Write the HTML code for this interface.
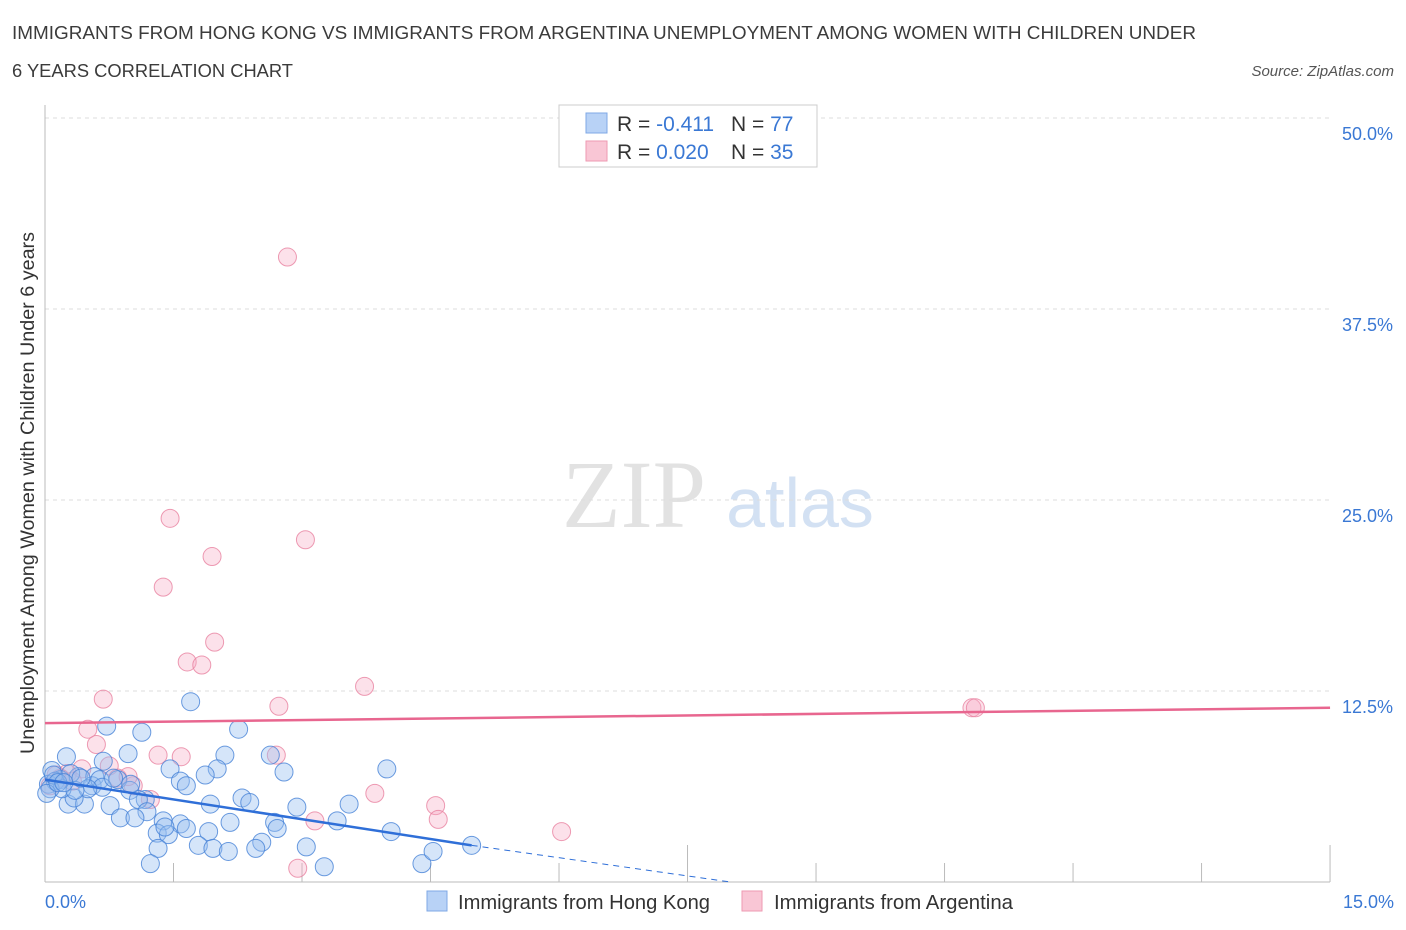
<!DOCTYPE html>
<html><head><meta charset="utf-8">
<style>
body{margin:0;background:#fff;font-family:"Liberation Sans",sans-serif;}
svg{display:block}
</style></head>
<body>
<svg id="c" width="1406" height="930">
<text x="12" y="39" font-size="18" fill="#3b3b3b" textLength="1184" lengthAdjust="spacingAndGlyphs">IMMIGRANTS FROM HONG KONG VS IMMIGRANTS FROM ARGENTINA UNEMPLOYMENT AMONG WOMEN WITH CHILDREN UNDER</text>
<text x="12" y="77" font-size="18" fill="#3b3b3b" textLength="281" lengthAdjust="spacingAndGlyphs">6 YEARS CORRELATION CHART</text>
<text x="1394" y="76" font-size="15" font-style="italic" fill="#555" text-anchor="end">Source: ZipAtlas.com</text>
<text x="634" y="527" font-size="96" font-family="Liberation Serif" fill="#e2e2e2" text-anchor="middle">ZIP</text>
<text x="800" y="527" font-size="70" fill="#d3e1f3" text-anchor="middle">atlas</text>
<text transform="translate(34,493) rotate(-90)" font-size="19" fill="#333" text-anchor="middle" textLength="522" lengthAdjust="spacingAndGlyphs">Unemployment Among Women with Children Under 6 years</text>
<g id="grid"></g>
<g id="marks"></g>
<g>
<rect x="559" y="105" width="258" height="62" fill="#fff" stroke="#ccc"/>
<rect x="586" y="113" width="21" height="20" fill="#b8d2f6" stroke="#7fa8e6"/>
<rect x="586" y="141" width="21" height="20" fill="#f9c6d5" stroke="#ee9ab2"/>
<text x="617" y="131" font-size="21" fill="#333">R = <tspan fill="#3a78d4">-0.411</tspan><tspan x="731">N = </tspan><tspan fill="#3a78d4">77</tspan></text>
<text x="617" y="159" font-size="21" fill="#333">R = <tspan fill="#3a78d4">0.020</tspan><tspan x="731">N = </tspan><tspan fill="#3a78d4">35</tspan></text>
</g>
<g>
<rect x="427" y="891" width="20" height="20" fill="#b8d2f6" stroke="#7fa8e6"/>
<text x="458" y="909" font-size="20" fill="#333" textLength="252" lengthAdjust="spacingAndGlyphs">Immigrants from Hong Kong</text>
<rect x="742" y="891" width="20" height="20" fill="#f9c6d5" stroke="#ee9ab2"/>
<text x="774" y="909" font-size="20" fill="#333" textLength="239" lengthAdjust="spacingAndGlyphs">Immigrants from Argentina</text>
</g>
</svg>
<script>
const yTicks=[12.5,25,37.5,50];
const yTickLabels=["12.5%","25.0%","37.5%","50.0%"];
const xTickLabels=["0.0%","15.0%"];
const hkX=[1.7,0.72,2.26,1.13,0.25,0.97,2.1,2.63,0.68,3.99,1.46,2.79,2.01,1.87,0.08,0.39,0.58,1.58,1.65,0.18,0.85,0.55,0.04,0.12,0.64,0.99,1.17,2.3,2.39,1.93,3.55,2.94,0.27,0.46,0.34,0.76,1.09,1.19,0.88,1.05,1.38,1.58,2.16,2.68,3.41,4.04,1.31,1.44,1.91,1.65,2.53,2.71,1.32,1.79,1.96,2.14,2.46,3.05,1.23,3.26,4.4,4.53,4.98,0.67,0.5,0.2,0.06,0.02,0.1,0.3,0.15,1.0,0.8,0.35,1.4,0.22,0.42];
const hkY=[11.8,10.2,10.0,9.8,8.2,8.4,8.3,8.3,7.9,7.4,7.4,7.2,7.4,7.0,7.3,6.9,6.9,6.6,6.3,6.7,6.7,6.3,6.4,6.6,6.7,6.0,5.4,5.5,5.2,5.1,5.1,4.9,5.1,5.1,5.5,5.0,5.4,4.6,4.2,4.2,4.0,3.8,3.9,3.9,4.0,3.3,3.2,3.1,3.3,3.5,2.6,3.5,2.2,2.4,2.2,2.0,2.2,2.3,1.2,1.0,1.2,2.0,2.4,6.2,6.1,6.1,6.1,5.8,7.0,7.1,6.5,6.4,6.8,6.0,3.6,6.5,6.8];
const arX=[2.83,1.46,3.04,1.95,1.38,1.98,1.66,1.83,0.68,3.73,2.73,0.5,0.6,1.32,1.59,2.7,0.75,0.43,0.26,0.18,0.06,0.85,1.03,1.23,3.85,4.56,4.59,6.03,3.15,2.95,10.82,10.86,0.13,0.97,0.32];
const arY=[40.9,23.8,22.4,21.3,19.3,15.7,14.4,14.2,11.97,12.8,11.5,10.0,9.0,8.3,8.2,8.3,7.6,7.4,7.1,6.8,6.3,6.8,6.3,5.4,5.8,5.0,4.1,3.3,4.0,0.9,11.4,11.4,7.0,6.9,6.6];
const hkLine=[[0,6.7],[4.98,2.4]];
const hkDash=[[4.98,2.4],[8.0,0]];
const arLine=[[0,10.4],[15,11.4]];
const X=v=>45+v*85.67, Y=v=>882-v*15.28;
const NS="http://www.w3.org/2000/svg";
function mk(t,a,p){const e=document.createElementNS(NS,t);for(const k in a)e.setAttribute(k,a[k]);p.appendChild(e);return e;}
const g=document.getElementById('grid'),m=document.getElementById('marks');
yTicks.forEach((v,i)=>{
 const l=mk('line',{x1:45,x2:1330,y1:Y(v),y2:Y(v),stroke:'#ddd','stroke-dasharray':'4,4'},g);
 
 
 const t=mk('text',{x:1393,y:Y(v)+22,'font-size':18,fill:'#3a78d4','text-anchor':'end'},g);t.textContent=yTickLabels[i];
 
 
});
mk('line',{x1:45,x2:45,y1:105,y2:882,stroke:'#bbb'},g);
mk('line',{x1:45,x2:1330,y1:882,y2:882,stroke:'#bbb'},g);
for(let i=0;i<=10;i++){const x=X(i*1.5);mk('line',{x1:x,x2:x,y1:(i==5||i==10)?845:863,y2:882,stroke:'#bbb'},g);}
[[0,'start',45],[1,'end',1394]].forEach(([i,a,x])=>{const t=mk('text',{x:x,y:908,'font-size':18,fill:'#3a78d4','text-anchor':a},g);t.textContent=xTickLabels[i];
 
 });
arX.forEach((v,i)=>{const c=mk('circle',{cx:X(v),cy:Y(arY[i]),r:9,fill:'rgba(246,170,195,0.35)',stroke:'rgba(232,130,160,0.8)','stroke-width':1},m);
 
 });
hkX.forEach((v,i)=>{const c=mk('circle',{cx:X(v),cy:Y(hkY[i]),r:9,fill:'rgba(150,190,240,0.4)',stroke:'rgba(70,130,215,0.8)','stroke-width':1},m);
 
 });
const l1=mk('line',{x1:X(hkLine[0][0]),y1:Y(hkLine[0][1]),x2:X(hkLine[1][0]),y2:Y(hkLine[1][1]),stroke:'#2f6fd8','stroke-width':2.5},m);


const l2=mk('line',{x1:X(hkDash[0][0]),y1:Y(hkDash[0][1]),x2:X(hkDash[1][0]),y2:Y(hkDash[1][1]),stroke:'#2f6fd8','stroke-width':1,'stroke-dasharray':'6,5'},m);


const l3=mk('line',{x1:X(arLine[0][0]),y1:Y(arLine[0][1]),x2:X(arLine[1][0]),y2:Y(arLine[1][1]),stroke:'#e8668f','stroke-width':2.5},m);


</script>
</body></html>
